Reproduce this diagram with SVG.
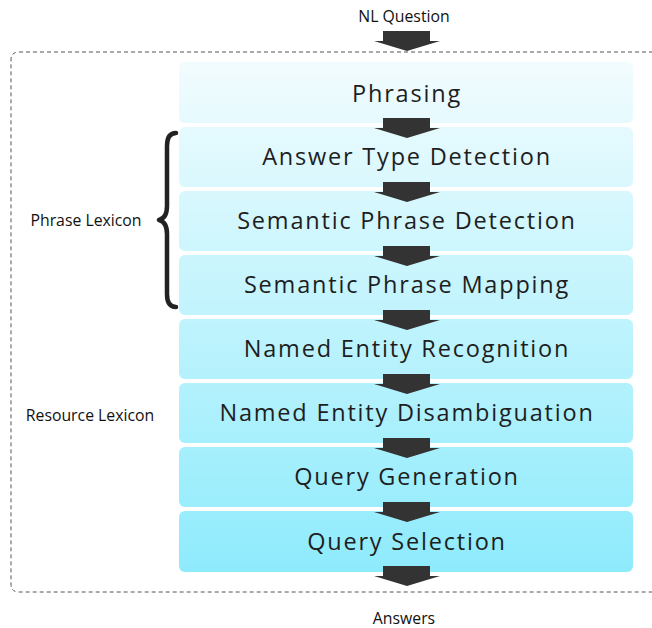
<svg xmlns="http://www.w3.org/2000/svg" width="652" height="628" viewBox="0 0 652 628">
  <defs>
    <linearGradient id="stack" gradientUnits="userSpaceOnUse" x1="0" y1="62" x2="0" y2="572">
      <stop offset="0" stop-color="#f2fcfe"/>
      <stop offset="1" stop-color="#8eebfc"/>
    </linearGradient>
    <path id="down" d="M-24,0 H23 V10 H33 L0,20 L-33,10 H-24 Z"/>
  </defs>
  <style>
    .box { fill: url(#stack); }
    .step { font-family: "Open Sans", "Liberation Sans", sans-serif; font-size: 23.5px; fill: #1e1e1e; text-anchor: middle; letter-spacing: 1.8px; }
    .side { font-family: "Open Sans", "Liberation Sans", sans-serif; font-size: 15.8px; fill: #111; text-anchor: middle; }
    .arrow { fill: #333333; }
    .frame { fill: none; stroke: #555; stroke-width: 1; stroke-dasharray: 4 3; }
    .brace { fill: none; stroke: #222; stroke-width: 4.5; stroke-linecap: round; stroke-linejoin: round; }
  </style>

  <rect width="652" height="628" fill="#ffffff"/>

  <!-- dashed pipeline frame, open on the right -->
  <path class="frame" d="M660,52 H19 Q11,52 11,60 V584 Q11,592 19,592 H660"/>

  <text class="side" x="404" y="22">NL Question</text>
  <text class="side" x="404" y="624">Answers</text>
  <text class="side" x="86" y="226">Phrase Lexicon</text>
  <text class="side" x="90" y="421">Resource Lexicon</text>

  <!-- brace grouping the phrase-lexicon steps -->
  <path class="brace" d="M176,133 Q167,133 167,146 V206 Q167,218 159,220 Q167,222 167,234 V294 Q167,307 176,307"/>

  <g id="phrasing"><rect class="box" x="179" y="62" width="454" height="61" rx="6"/><text class="step" x="407" y="102">Phrasing</text></g>
  <g id="answer-type"><rect class="box" x="179" y="127" width="454" height="60" rx="6"/><text class="step" x="407" y="165">Answer Type Detection</text></g>
  <g id="phrase-detection"><rect class="box" x="179" y="191" width="454" height="60" rx="6"/><text class="step" x="407" y="229">Semantic Phrase Detection</text></g>
  <g id="phrase-mapping"><rect class="box" x="179" y="255" width="454" height="60" rx="6"/><text class="step" x="407" y="293">Semantic Phrase Mapping</text></g>
  <g id="ner"><rect class="box" x="179" y="319" width="454" height="60" rx="6"/><text class="step" x="407" y="357">Named Entity Recognition</text></g>
  <g id="ned"><rect class="box" x="179" y="383" width="454" height="60" rx="6"/><text class="step" x="407" y="421">Named Entity Disambiguation</text></g>
  <g id="query-generation"><rect class="box" x="179" y="447" width="454" height="60" rx="6"/><text class="step" x="407" y="485">Query Generation</text></g>
  <g id="query-selection"><rect class="box" x="179" y="511" width="454" height="61" rx="6"/><text class="step" x="407" y="550">Query Selection</text></g>

  <g id="connectors" class="arrow">
    <use href="#down" x="407" y="31"/>
    <use href="#down" x="407" y="118"/>
    <use href="#down" x="407" y="182"/>
    <use href="#down" x="407" y="246"/>
    <use href="#down" x="407" y="310"/>
    <use href="#down" x="407" y="374"/>
    <use href="#down" x="407" y="438"/>
    <use href="#down" x="407" y="502"/>
    <use href="#down" x="407" y="566"/>
  </g>
</svg>
